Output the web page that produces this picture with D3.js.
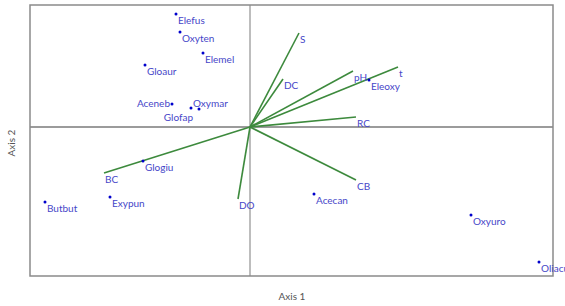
<!DOCTYPE html>
<html>
<head>
<meta charset="utf-8">
<script src="https://cdn.jsdelivr.net/npm/d3@7"></script>
<style>
  body { margin: 0; background: #fff; }
  .site-label { font-family: Lato, sans-serif; font-size: 10px; fill: #4646c8; }
  .axis-title { font-family: Lato, sans-serif; font-size: 10px; fill: #555; }
</style>
</head>
<body>
<svg id="chart" width="565" height="306"></svg>
<script>
// species scores (axis 1, axis 2)
var species = ["Elefus", "Oxyten", "Elemel", "Gloaur", "Aceneb", "Glofap", "Oxymar", "Eleoxy",
               "Glogiu", "Exypun", "Butbut", "Acecan", "Oxyuro", "Oliacu"];
var spX = [-0.74, -0.70, -0.47, -1.05, -0.78, -0.59, -0.51, 1.19,
           -1.07, -1.40, -2.05, 0.64, 2.21, 2.89];
var spY = [1.13, 0.95, 0.74, 0.62, 0.23, 0.19, 0.18, 0.47,
           -0.34, -0.70, -0.75, -0.67, -0.88, -1.35];
// label side: 'r' right/below, 'l' left, 'u' above right, 'd' below left
var spAnchor = ["r", "r", "r", "r", "l", "d", "u", "r", "r", "r", "r", "r", "r", "r"];

// environmental vectors
var env = ["S", "DC", "pH", "t", "RC", "CB", "DO", "BC"];
var envX = [0.49, 0.33, 1.03, 1.48, 1.06, 1.06, -0.12, -1.46];
var envY = [0.94, 0.48, 0.56, 0.60, 0.10, -0.53, -0.72, -0.46];

var svg = d3.select('#chart');

var margin = { top: 5, right: 12, bottom: 30, left: 30 };
var width = 565 - margin.left - margin.right;
var height = 306 - margin.top - margin.bottom;

var x = d3.scaleLinear().domain([-2.2, 3.03]).range([0, width]);
var y = d3.scaleLinear().domain([-1.49, 1.22]).range([height, 0]);

var g = svg.append('g')
    .attr('transform', 'translate(' + margin.left + ',' + margin.top + ')');

// zero lines
g.append('line')
    .attr('x1', x(0)).attr('x2', x(0))
    .attr('y1', 0).attr('y2', height)
    .attr('stroke', '#9a9a9a').attr('stroke-width', 1.3);
g.append('line')
    .attr('x1', 0).attr('x2', width)
    .attr('y1', y(0)).attr('y2', y(0))
    .attr('stroke', '#7a7a7a').attr('stroke-width', 1.3);

// frame
g.append('rect')
    .attr('width', width).attr('height', height)
    .attr('fill', 'none')
    .attr('stroke', '#8a8a8a').attr('stroke-width', 1.5);

// vectors
g.append('g')
    .selectAll('line')
    .data(env)
    .enter()
    .append('line')
    .attr('x1', x(0)).attr('y1', y(0))
    .attr('x2', (d, i) => x(envX[i]))
    .attr('y2', (d, i) => y(envY[i]))
    .attr('stroke', '#3d8a3d')
    .attr('stroke-width', 1.6);

g.append('g')
    .selectAll('text')
    .data(env)
    .enter()
    .append('text')
    .attr('class', 'site-label')
    .attr('x', (d, i) => x(envX[i]) + 1)
    .attr('y', (d, i) => y(envY[i]) + 10)
    .text(d => d);

// species points
var pts = g.append('g')
    .selectAll('g')
    .data(species)
    .enter()
    .append('g')
    .attr('transform', (d, i) => 'translate(' + x(spX[i]) + ',' + y(spY[i]) + ')');

pts.append('circle')
    .attr('r', 1.5)
    .attr('fill', '#0000cc');

pts.append('text')
    .attr('class', 'site-label')
    .attr('x', function(d, i) {
        var a = spAnchor[i];
        if (a == 'l') return -2;
        if (a == 'd') return 2;
        if (a == 'u') return -6;
        return 2;
    })
    .attr('y', function(d, i) {
        var a = spAnchor[i];
        if (a == 'l') return 3;
        if (a == 'd') return 13;
        if (a == 'u') return -2;
        return 10;
    })
    .attr('text-anchor', (d, i) => (spAnchor[i] == 'l' || spAnchor[i] == 'd') ? 'end' : 'start')
    .text(d => d);

// axis titles
svg.append('text')
    .attr('class', 'axis-title')
    .attr('x', margin.left + x(0) + 42)
    .attr('y', 300)
    .attr('text-anchor', 'middle')
    .text('Axis 1');

svg.append('text')
    .attr('class', 'axis-title')
    .attr('transform', 'translate(15,143) rotate(-90)')
    .attr('text-anchor', 'middle')
    .text('Axis 2');
</script>
</body>
</html>
